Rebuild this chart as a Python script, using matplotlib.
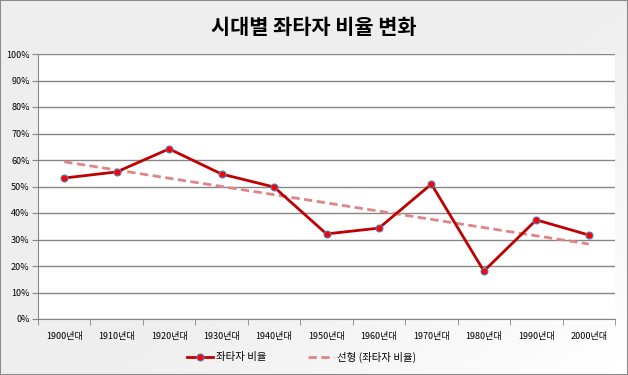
import numpy as np
import matplotlib
matplotlib.use('Agg')
import matplotlib.pyplot as plt
from matplotlib.ticker import FixedLocator, PercentFormatter

plt.rcParams['font.family'] = ['Noto Sans CJK KR', 'DejaVu Sans']

decades = ['1900년대', '1910년대', '1920년대', '1930년대', '1940년대', '1950년대',
           '1960년대', '1970년대', '1980년대', '1990년대', '2000년대']
lefty_ratio = [53.2, 55.5, 64.2, 54.7, 49.8, 32.1, 34.3, 50.9, 18.1, 37.4, 31.7]

x = np.arange(len(decades))
y = np.array(lefty_ratio)
# linear trendline like Excel's
fit_fn = np.poly1d(np.polyfit(x, y, 1))

fig = plt.figure(figsize=(6.28, 3.75), dpi=100)

# background gradient (light gray -> white toward lower right)
bg = fig.add_axes([0, 0, 1, 1], zorder=-10)
gx, gy = np.meshgrid(np.linspace(0, 1, 200), np.linspace(0, 1, 120))
g = np.clip((gx - 0.55) * 1.2 + (gy - 0.5) * 1.0, 0, 1)
bg.imshow(g, cmap=matplotlib.colors.LinearSegmentedColormap.from_list('bg', ['#eeeeee', '#ffffff']),
          extent=[0, 1, 0, 1], aspect='auto', origin='upper', vmin=0, vmax=1)
bg.set_xlim(0, 1); bg.set_ylim(0, 1)
for s in bg.spines.values():
    s.set_edgecolor('#8c8c8c'); s.set_linewidth(1.5)
bg.set_xticks([]); bg.set_yticks([])

ax = fig.add_axes([38 / 628, 1 - 319 / 375, (615 - 38) / 628, (319 - 54) / 375])
ax.set_facecolor('white')
ax.plot(x, fit_fn(x), color='#e08585', lw=2, ls=(0, (3, 1.6)), label='선형 (좌타자 비율)', zorder=2)
ax.plot(x, y, color='#c00000', lw=2, marker='o', ms=5, mfc='#ff0000', mec='#4f81bd', mew=0.8,
        label='좌타자 비율', zorder=3)

ax.set_xlim(-0.5, len(decades) - 0.5)
ax.set_ylim(0, 100)
ax.set_yticks(np.arange(0, 101, 10))
ax.yaxis.set_major_formatter(PercentFormatter(decimals=0))
ax.grid(axis='y', color='#868686', lw=1)
ax.set_axisbelow(True)

ax.set_xticks(x)
ax.set_xticklabels(decades)
ax.xaxis.set_minor_locator(FixedLocator(np.arange(-0.5, len(decades), 1)))
ax.tick_params(axis='x', which='major', length=0, pad=9, labelsize=6.5)
ax.tick_params(axis='x', which='minor', length=4, color='#868686', direction='out')
ax.tick_params(axis='y', length=4, color='#868686', labelsize=6.5, pad=2)

for side in ['top', 'right']:
    ax.spines[side].set_visible(False)
for side in ['left', 'bottom']:
    ax.spines[side].set_color('#868686')

fig.text(0.5, 1 - 28 / 375, '시대별 좌타자 비율 변화', ha='center', va='center',
         fontsize=15, fontweight='bold')

h, l = ax.get_legend_handles_labels()
fig.legend(h[::-1], l[::-1], loc='center', bbox_to_anchor=(0.48, 1 - 357 / 375), ncol=2,
           frameon=False, fontsize=7.5, handlelength=2.5, columnspacing=4.0, handletextpad=0.3)

fig.savefig('out.png', dpi=100)
